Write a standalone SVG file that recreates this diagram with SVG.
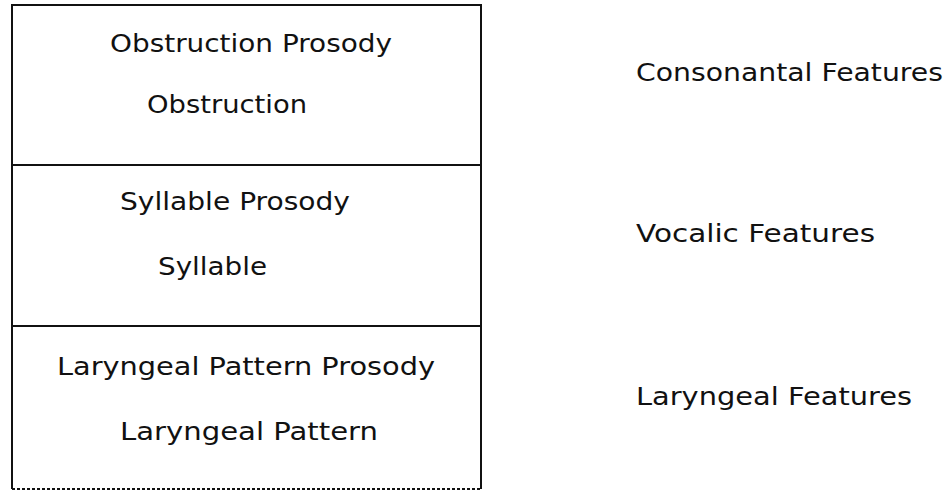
<svg xmlns="http://www.w3.org/2000/svg" width="949" height="490" viewBox="0 0 949 490">
<style>
.t{font-family:"DejaVu Sans",Verdana,sans-serif;font-size:24px;fill:#111}
.b{fill:none;stroke:#111;stroke-width:2}
</style>
<rect width="949" height="490" fill="#fff"/>
<g id="frame">
<line class="b" x1="12" y1="4" x2="12" y2="489" stroke-width="2.5"/>
<line class="b" x1="481" y1="4" x2="481" y2="489"/>
<line class="b" x1="11" y1="5" x2="482" y2="5"/>
<line class="b" x1="12" y1="489" x2="481" y2="489" stroke-width="1" stroke-dasharray="3,2"/>
</g>
<g id="obstruction">
<line class="b" x1="12" y1="165" x2="481" y2="165"/>
<text class="t" x="110" y="52" textLength="282" lengthAdjust="spacingAndGlyphs">Obstruction Prosody</text>
<text class="t" x="147" y="113" textLength="160" lengthAdjust="spacingAndGlyphs">Obstruction</text>
</g>
<g id="syllable">
<line class="b" x1="12" y1="326" x2="481" y2="326"/>
<text class="t" x="120" y="210" textLength="230" lengthAdjust="spacingAndGlyphs">Syllable Prosody</text>
<text class="t" x="158" y="275" textLength="109" lengthAdjust="spacingAndGlyphs">Syllable</text>
</g>
<g id="laryngeal">
<text class="t" x="57" y="375" textLength="378" lengthAdjust="spacingAndGlyphs">Laryngeal Pattern Prosody</text>
<text class="t" x="120" y="440" textLength="258" lengthAdjust="spacingAndGlyphs">Laryngeal Pattern</text>
</g>
<g id="features">
<text class="t" x="636" y="81" textLength="307" lengthAdjust="spacingAndGlyphs">Consonantal Features</text>
<text class="t" x="636" y="242" textLength="239" lengthAdjust="spacingAndGlyphs">Vocalic Features</text>
<text class="t" x="636" y="405" textLength="276" lengthAdjust="spacingAndGlyphs">Laryngeal Features</text>
</g>
</svg>
